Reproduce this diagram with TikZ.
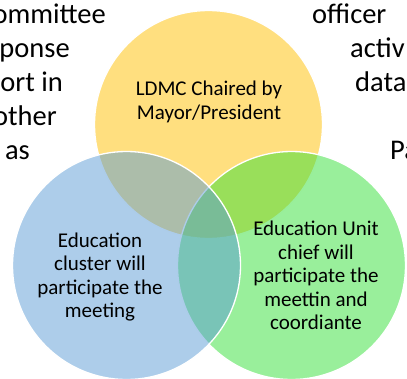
\documentclass[tikz,border=0pt]{standalone}
\usepackage{fontspec}
\setmainfont{Carlito}
\usetikzlibrary{shapes,positioning}

\definecolor{mayorgold}{HTML}{FFBF00}
\definecolor{clusterblue}{HTML}{5B9BD5}
\definecolor{unitgreen}{HTML}{33DF37}

\begin{document}
\begin{tikzpicture}[x=1pt, y=-1pt,
  venn/.style={circle, minimum size=228pt, fill opacity=0.5, draw=white, line width=1.3pt},
  bgtext/.style={inner sep=0pt, font=\fontsize{28.5}{34}\selectfont},
  venntext/.style={align=center, inner sep=0pt, font=\fontsize{21}{23.5}\selectfont}]
\useasboundingbox (0,0) rectangle (407,378);
\clip (0,0) rectangle (407,378);

% text of the slide behind the diagram
\node[bgtext, anchor=base east] (l1) at (106,23) {ommittee};
\node[bgtext, anchor=base east] (l2) at (70,57) {ponse};
\node[bgtext, anchor=base east] (l3) at (63,91) {ort in};
\node[bgtext, anchor=base east] (l4) at (57,125) {other};
\node[bgtext, anchor=base east] (l5) at (30,159) {as};
\node[bgtext, anchor=base west] (r1) at (312,23) {officer};
\node[bgtext, anchor=base west] (r2) at (350,57) {activ};
\node[bgtext, anchor=base west] (r3) at (355,91) {data};
\node[bgtext, anchor=base west] (r4) at (390,159) {Pa};

% the three circles
\node[venn, fill=mayorgold] (ldmc) at (208.5,124.5) {};
\node[venn, fill=unitgreen] (unit) at (291.5,265.5) {};
\node[venn, fill=clusterblue] (cluster) at (126.5,265.5) {};

\node[venntext] (ldmctext) at (209,102) {LDMC Chaired by\\Mayor/President};
\node[venntext] (clustertext) at (100,277) {Education\\cluster will\\participate the\\meeting};
\node[venntext] (unittext) at (316,275.5) {Education Unit\\chief will\\participate the\\meettin and\\coordiante};
\end{tikzpicture}
\end{document}
